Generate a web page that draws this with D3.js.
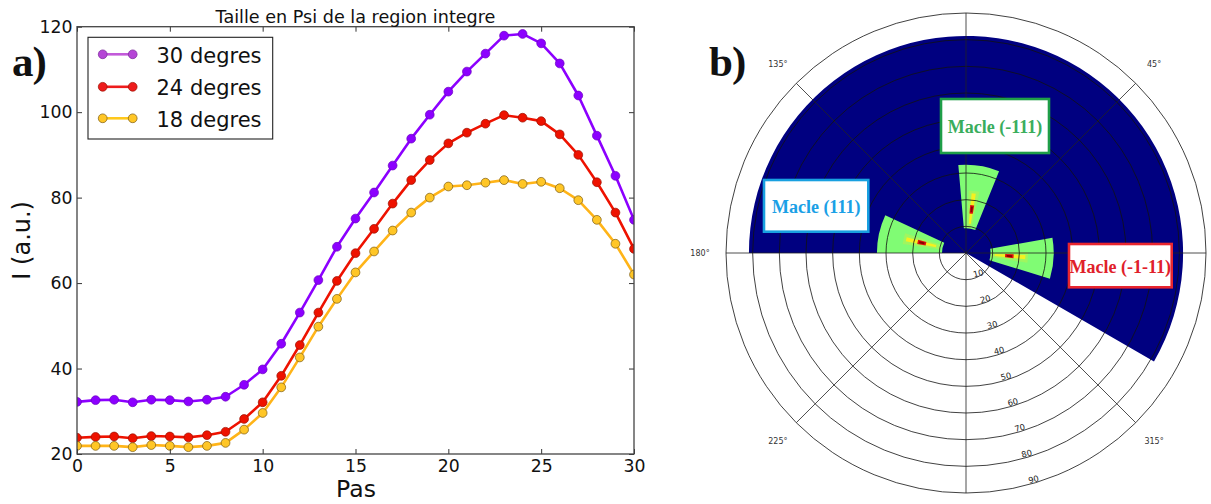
<!DOCTYPE html>
<html><head><meta charset="utf-8">
<script src="https://cdn.jsdelivr.net/npm/d3@7"></script>
<style>body{margin:0;background:#fff}svg{display:block}</style>
</head><body><svg id="c" width="1211" height="504"></svg>
<script>
// ---------- data: panel a ----------
const pas = [0,1,2,3,4,5,6,7,8,9,10,11,12,13,14,15,16,17,18,19,20,21,22,23,24,25,26,27,28,29,30];
const s30 = [32.2,32.6,32.7,32.1,32.7,32.6,32.3,32.7,33.4,36.2,39.8,45.8,53.1,60.7,68.5,75.1,81.2,87.5,93.8,99.4,104.8,109.5,113.7,117.9,118.3,116.1,111.4,103.9,94.5,85.1,74.8];
const s24 = [23.8,24.0,24.1,23.7,24.2,24.1,23.9,24.4,25.2,28.2,32.1,38.3,45.5,53.1,60.5,67.0,72.7,78.6,84.1,88.8,92.7,95.2,97.3,99.3,98.7,97.9,94.8,90.0,83.6,76.5,68.0];
const s18 = [21.9,21.9,21.9,21.6,22.1,21.9,21.6,21.9,22.6,25.7,29.6,35.6,42.6,49.8,56.3,62.5,67.4,72.3,76.5,80.0,82.6,82.9,83.5,84.1,83.2,83.7,82.2,79.4,74.8,69.2,62.0];
const seriesNames = ["30 degres","24 degres","18 degres"];
const xTicks = [0,5,10,15,20,25,30];
const yTicks = [20,40,60,80,100,120];

// ---------- data: panel b (polar) ----------
const ringValues = [10,20,30,40,50,60,70,80,90];
const angleTicks = [0,45,90,135,180,225,270,315];
const angleLabels = [45,135,180,225,315];
const bgTheta = [-30,180];
const bgR = [0,81.4];
const wedgeTheta0 = [68,155,-17];
const wedgeTheta1 = [95,180,10];
const wedgeR0 = [9.3,9.0,9.2];
const wedgeR1 = [33.1,33.4,32.9];
const spotTheta = [82.6,167,-4];
const spotR = [16.5,17.0,16.3];
const macleLabels = ["Macle (-111)","Macle (111)","Macle (-1-11)"];

const svg = d3.select("#c");
svg.append("rect").attr("width",1211).attr("height",504).attr("fill","#fff");

// ================= Panel a =================
const L = 77, R = 634, T = 26.7, B = 454;
const x = d3.scaleLinear().domain([0,30]).range([L,R]);
const y = d3.scaleLinear().domain([20,120]).range([B,T]);
const font = "'DejaVu Sans', sans-serif";

svg.append("defs").append("clipPath").attr("id","pa")
  .append("rect").attr("x",L).attr("y",T).attr("width",R-L).attr("height",B-T);

const styles = [
  {line:"#8c00ff", fill:"#8c00ff", edge:"#6a00c0", lline:"#c25ad9", lfill:"#b545d6", ledge:"#7a2a99"},
  {line:"#ee1200", fill:"#ee1200", edge:"#9a1000", lline:"#ee1c1c", lfill:"#ee1c1c", ledge:"#9a1000"},
  {line:"#ffb418", fill:"#ffc626", edge:"#7a5a14", lline:"#ffc81c", lfill:"#ffc626", ledge:"#7a5a14"}
];
const seriesVals = [s30,s24,s18];

const gPlot = svg.append("g").attr("clip-path","url(#pa)");
const line = d3.line().x((d,i)=>x(pas[i])).y(d=>y(d));
seriesVals.forEach((vals,k)=>{
  gPlot.append("path").datum(vals).attr("d",line).attr("fill","none")
    .attr("stroke",styles[k].line).attr("stroke-width",2.6).attr("stroke-linejoin","round");
  gPlot.selectAll(null).data(vals).enter().append("circle")
    .attr("cx",(d,i)=>x(pas[i])).attr("cy",d=>y(d)).attr("r",4.4)
    .attr("fill",styles[k].fill).attr("stroke",styles[k].edge).attr("stroke-width",0.7);
});

// axes
const axB = svg.append("g").attr("transform",`translate(0,${B})`)
  .call(d3.axisBottom(x).tickValues(xTicks).tickSize(-5).tickPadding(6));
const axL = svg.append("g").attr("transform",`translate(${L},0)`)
  .call(d3.axisLeft(y).tickValues(yTicks).tickSize(-5).tickPadding(4.5));
const axT = svg.append("g").attr("transform",`translate(0,${T})`)
  .call(d3.axisTop(x).tickValues(xTicks).tickSize(-5).tickFormat(""));
const axR = svg.append("g").attr("transform",`translate(${R},0)`)
  .call(d3.axisRight(y).tickValues(yTicks).tickSize(-5).tickFormat(""));
[axB,axL,axT,axR].forEach(g=>{
  g.select(".domain").remove();
  g.selectAll(".tick line").attr("stroke","#333").attr("stroke-width",1);
  g.selectAll("text").attr("font-family",font).attr("font-size",17.3).attr("fill","#111");
});
svg.append("rect").attr("x",L).attr("y",T).attr("width",R-L).attr("height",B-T)
  .attr("fill","none").attr("stroke","#444").attr("stroke-width",1.3);

svg.append("text").attr("x",(L+R)/2).attr("y",22.6).attr("text-anchor","middle")
  .attr("font-family",font).attr("font-size",17.6).attr("fill","#111")
  .text("Taille en Psi de la region integre");
svg.append("text").attr("x",356).attr("y",497).attr("text-anchor","middle")
  .attr("font-family",font).attr("font-size",23.5).attr("fill","#111").text("Pas");
svg.append("text").attr("transform",`translate(29.5,${(T+B)/2}) rotate(-90)`).attr("text-anchor","middle")
  .attr("font-family",font).attr("font-size",24).attr("fill","#111").text("I (a.u.)");

// legend
const lg = svg.append("g");
lg.append("rect").attr("x",88).attr("y",37.3).attr("width",184.7).attr("height",101.7)
  .attr("fill","#fff").attr("stroke","#222").attr("stroke-width",1.1);
const legY = [54.3,86.8,118.3];
seriesNames.forEach((n,k)=>{
  const st = styles[k];
  lg.append("line").attr("x1",102.7).attr("x2",132.7).attr("y1",legY[k]).attr("y2",legY[k])
    .attr("stroke",st.lline).attr("stroke-width",2.6);
  [102.7,132.7].forEach(cx=>lg.append("circle").attr("cx",cx).attr("cy",legY[k]).attr("r",4.4)
    .attr("fill",st.lfill).attr("stroke",st.ledge).attr("stroke-width",0.7));
  lg.append("text").attr("x",156.5).attr("y",legY[k]+8.2).attr("font-family",font)
    .attr("font-size",21).attr("fill","#111").text(n);
});

// panel letters
svg.append("text").attr("x",12).attr("y",76).attr("font-family","'Liberation Serif', 'Times New Roman', serif")
  .attr("font-weight","bold").attr("font-size",43).attr("fill","#111").attr("letter-spacing",-1).text("a)");
svg.append("text").attr("x",709).attr("y",76).attr("font-family","'Liberation Serif', 'Times New Roman', serif")
  .attr("font-weight","bold").attr("font-size",43).attr("fill","#111").attr("letter-spacing",-1).text("b)");

// ================= Panel b =================
const cx = 966, cy = 253;
const rS = d3.scaleLinear().domain([0,90]).range([0,240]);
const rad = a => a*Math.PI/180;
const gp = svg.append("g").attr("transform",`translate(${cx},${cy})`);
function sector(t0,t1,r0,r1){
  return d3.arc()({innerRadius:rS(r0), outerRadius:rS(r1), startAngle:rad(90-t1), endAngle:rad(90-t0)});
}
// navy background data
gp.append("path").attr("d",sector(bgTheta[0],bgTheta[1],bgR[0],bgR[1])).attr("fill","#000080");
// green sectors
wedgeTheta0.forEach((t0,i)=>{
  gp.append("path").attr("d",sector(t0,wedgeTheta1[i],wedgeR0[i],wedgeR1[i])).attr("fill","#80fc74");
});
// hot spots
spotTheta.forEach((t,i)=>{
  const r = spotR[i];
  gp.append("path").attr("d",sector(t-5,t+5,r-7,r+7)).attr("fill","#b8f050").attr("opacity",0.55);
  gp.append("path").attr("d",sector(t-2,t+2,r-5.5,r+6)).attr("fill","#f5f020");
  gp.append("path").attr("d",sector(t-2.4,t+2.4,r-1.6,r+1.6)).attr("fill","#dd1010");
  gp.append("path").attr("d",sector(t-1.2,t+1.2,r-1,r+1)).attr("fill","#880000");
});
// rings
ringValues.forEach(v=>{
  gp.append("circle").attr("r",rS(v)).attr("fill","none").attr("stroke","#111").attr("stroke-width",0.8);
});
// spokes
angleTicks.forEach(a=>{
  gp.append("line").attr("x1",0).attr("y1",0)
    .attr("x2",rS(90)*Math.cos(rad(a))).attr("y2",-rS(90)*Math.sin(rad(a)))
    .attr("stroke","#222").attr("stroke-width",0.8);
});
// angle labels (the ones falling inside the picture)
angleLabels.forEach(a=>{
  gp.append("text").attr("x",266*Math.cos(rad(a))).attr("y",-266*Math.sin(rad(a)))
    .attr("text-anchor","middle").attr("dominant-baseline","central")
    .attr("font-family",font).attr("font-size",8).attr("fill","#333").text(a+"°");
});
// radial labels
ringValues.forEach(v=>{
  const px = rS(v)*Math.cos(rad(-75)) + 5.4, py = -rS(v)*Math.sin(rad(-75)) - 5.5;
  gp.append("text").attr("transform",`translate(${px},${py}) rotate(-15)`)
    .attr("text-anchor","middle").attr("dominant-baseline","central")
    .attr("font-family",font).attr("font-size",8.3).attr("fill","#222").text(v);
});

// Macle boxes
const boxX = [941,764,1069], boxY = [99,180,244], boxW = [108,104.3,102.7], boxH = [54,51.7,43.3];
const boxStroke = ["#1f9e48","#18a0e0","#e8252f"], boxText = ["#3aad5c","#1aa0e6","#e0202a"];
const textY = [133,213,272.5];
macleLabels.forEach((t,i)=>{
  svg.append("rect").attr("x",boxX[i]).attr("y",boxY[i]).attr("width",boxW[i]).attr("height",boxH[i])
    .attr("fill","#fff").attr("stroke",boxStroke[i]).attr("stroke-width",2.6);
  svg.append("text").attr("x",boxX[i]+boxW[i]/2).attr("y",textY[i]).attr("text-anchor","middle")
    .attr("font-family","'Liberation Serif', 'Times New Roman', serif").attr("font-weight","bold")
    .attr("font-size",18).attr("fill",boxText[i]).text(t);
});
</script></body></html>
